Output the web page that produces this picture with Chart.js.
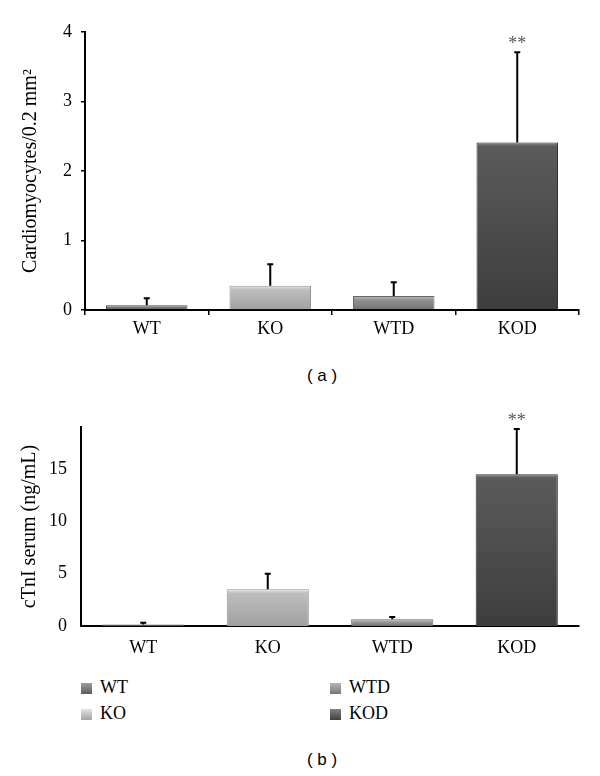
<!DOCTYPE html>
<html>
<head>
<meta charset="utf-8">
<script src="https://cdn.jsdelivr.net/npm/chart.js@4/dist/chart.umd.min.js"></script>
<style>
	body { margin: 0; background: #fff; }
	#wrap { position: relative; width: 600px; height: 776px; overflow: hidden; }
	.box { position: absolute; left: 0; width: 600px; }
	.cap { position: absolute; font-family: "Liberation Sans", Arial, sans-serif; font-size: 17px; color: #000; transform: translate(-50%, -50%); white-space: pre; }
	.leg { position: absolute; font-family: "Liberation Serif", serif; font-size: 18px; color: #000; line-height: 20px; }
	.leg i { display: inline-block; width: 11px; height: 11px; margin-right: 8px; vertical-align: -1px; }
</style>
</head>
<body>
<div id="wrap">
	<div class="box" style="top:0;height:345px"><canvas id="chartA"></canvas></div>
	<div class="cap" style="left:322px;top:376px">( a )</div>
	<div class="box" style="top:380px;height:280px"><canvas id="chartB"></canvas></div>
	<div id="legend"></div>
	<div class="cap" style="left:322px;top:760px">( b )</div>
</div>
<script>
const categories = ['WT', 'KO', 'WTD', 'KOD'];
const barColors = ['#6b6b6b', '#b2b2b2', '#858585', '#4f4f4f'];
const sigMarks = ['', '', '', '**'];

// (a) cardiomyocytes per 0.2 mm2
const cardioMeans = [0.07, 0.35, 0.20, 2.41];
const cardioErrors = [0.10, 0.31, 0.20, 1.30];
const cardioTicks = [0, 1, 2, 3, 4];

// (b) cTnI serum
const ctniMeans = [0.15, 3.5, 0.65, 14.5];
const ctniErrors = [0.15, 1.5, 0.2, 4.3];
const ctniTicks = [0, 5, 10, 15];

const SERIF = '"Liberation Serif", "Times New Roman", serif';

function shade(hex, amt) {
	let n = parseInt(hex.slice(1), 16);
	let r = Math.max(0, Math.min(255, (n >> 16) + amt));
	let g = Math.max(0, Math.min(255, ((n >> 8) & 255) + amt));
	let b = Math.max(0, Math.min(255, (n & 255) + amt));
	return 'rgb(' + r + ',' + g + ',' + b + ')';
}

function barFill(c) {
	const base = barColors[c.dataIndex];
	const chart = c.chart;
	if (!chart.chartArea || c.type !== 'data') return base;
	const y = chart.scales.y;
	const top = y.getPixelForValue(c.raw);
	const bottom = y.getPixelForValue(0);
	const h = bottom - top;
	if (h < 2) return base;
	const g = chart.ctx.createLinearGradient(0, top, 0, bottom);
	g.addColorStop(0, shade(base, 55));
	g.addColorStop(Math.min(0.5, 4 / h), shade(base, 12));
	g.addColorStop(1, shade(base, -18));
	return g;
}

// error bars + significance stars, drawn from the y scale
const errorBars = {
	id: 'errorBars',
	afterDatasetsDraw(chart, args, opts) {
		const meta = chart.getDatasetMeta(0);
		const y = chart.scales.y;
		const vals = chart.data.datasets[0].data;
		const ctx = chart.ctx;
		ctx.save();
		ctx.strokeStyle = '#000';
		ctx.lineWidth = 2;
		meta.data.forEach((bar, i) => {
			const top = y.getPixelForValue(vals[i] + opts.errors[i]);
			const from = y.getPixelForValue(vals[i]);
			ctx.beginPath();
			ctx.moveTo(bar.x, from);
			ctx.lineTo(bar.x, top);
			ctx.moveTo(bar.x - 3, top);
			ctx.lineTo(bar.x + 3, top);
			ctx.stroke();
			if (sigMarks[i]) {
				ctx.fillStyle = '#555';
				ctx.font = '18px ' + SERIF;
				ctx.textAlign = 'center';
				ctx.textBaseline = 'middle';
				ctx.fillText(sigMarks[i], bar.x, top - 8);
			}
		});
		ctx.restore();
	}
};

function tickFont() {
	return { family: SERIF, size: 18 };
}

function getConfig(values, errors, yMax, ticks, yTitle, o) {
	return {
		type: 'bar',
		data: {
			labels: categories,
			datasets: [{
				data: values,
				backgroundColor: barFill,
				borderColor: barColors.map(c => shade(c, -30)),
				borderWidth: 1,
				barPercentage: 0.66,
				categoryPercentage: 1,
			}]
		},
		options: {
			responsive: true,
			maintainAspectRatio: false,
			animation: false,
			layout: { padding: { top: o.top, right: 21, left: 0, bottom: 0 } },
			plugins: {
				legend: { display: false },
				tooltip: { enabled: false },
				errorBars: { errors: errors },
			},
			scales: {
				x: {
					afterFit: (s) => { s.height = o.xHeight; },
					grid: { display: o.xTicks, drawOnChartArea: false, tickLength: 5, color: '#000', lineWidth: 1.5 },
					border: { display: true, color: '#000', width: 2 },
					ticks: { color: '#000', font: tickFont(), padding: o.xPad },
				},
				y: {
					min: 0,
					max: yMax,
					afterFit: (s) => { s.width = o.yWidth; },
					afterBuildTicks: (s) => { s.ticks = ticks.map(v => ({ value: v })); },
					grid: { display: o.yTicks, drawOnChartArea: false, tickLength: 4, color: '#000', lineWidth: 1.5 },
					border: { display: true, color: '#000', width: 2 },
					ticks: { color: '#000', font: tickFont(), padding: o.yPad },
					title: {
						display: true,
						text: yTitle,
						color: '#000',
						font: { family: SERIF, size: 20 },
						padding: { top: o.titlePad, bottom: 0 },
					},
				},
			},
		},
		plugins: [errorBars],
	};
}

new Chart(document.getElementById('chartA'), getConfig(cardioMeans, cardioErrors, 4, cardioTicks,
	'Cardiomyocytes/0.2 mm\u00B2',
	{ top: 32, xHeight: 35, yWidth: 85, xTicks: true, yTicks: true, xPad: 3, yPad: 9, titlePad: 19 }));

new Chart(document.getElementById('chartB'), getConfig(ctniMeans, ctniErrors, 19, ctniTicks,
	'cTnI serum (ng/mL)',
	{ top: 47, xHeight: 34, yWidth: 81, xTicks: false, yTicks: false, xPad: 6, yPad: 10, titlePad: 18 }));

// legend in two columns: WT/KO left, WTD/KOD right
const legendPos = [[81, 677], [81, 703], [330, 677], [330, 703]];
const legend = document.getElementById('legend');
categories.forEach((cat, i) => {
	const d = document.createElement('div');
	d.className = 'leg';
	d.style.left = legendPos[i][0] + 'px';
	d.style.top = legendPos[i][1] + 'px';
	const sw = document.createElement('i');
	sw.style.background = 'linear-gradient(' + shade(barColors[i], 50) + ',' + shade(barColors[i], -15) + ')';
	d.appendChild(sw);
	d.appendChild(document.createTextNode(cat));
	legend.appendChild(d);
});
</script>
</body>
</html>
